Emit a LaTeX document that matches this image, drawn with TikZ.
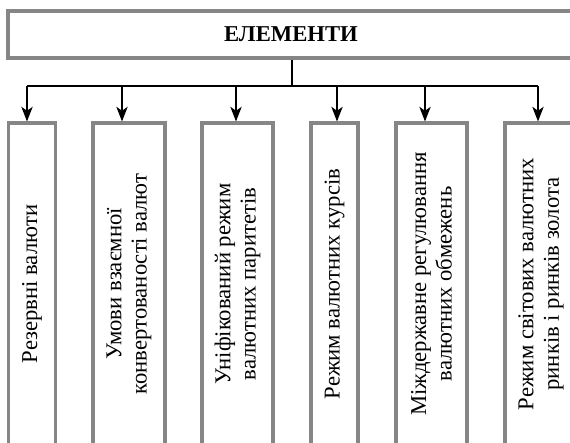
\documentclass[tikz,border=0pt]{standalone}
\usepackage{fontspec}
\setmainfont{Liberation Serif}
\usetikzlibrary{positioning,arrows.meta}

\begin{document}
\begin{tikzpicture}[
    x=0.75pt, y=0.75pt,
    head/.style={rectangle, draw=gray!95, line width=2.3pt, fill=white, minimum width=450pt, minimum height=35.25pt},
    title/.style={font=\fontsize{17}{20}\selectfont\bfseries, xshift=-12.75pt},
    elem/.style={rectangle, draw=gray!95, line width=2.3pt, fill=white, rotate=90, minimum width=241.5pt, align=center, inner sep=2pt, font=\fontsize{17}{19}\selectfont},
    arrow/.style={-{Stealth[length=11pt, width=8.5pt, inset=3pt]}, line width=1.1pt}
]
\useasboundingbox (0,0) rectangle (570,442);

% Nodes
\node[head, label={[title]center:ЕЛЕМЕНТИ}] (elements) at (308,407.5) {};
\node[elem, minimum height=35.25pt] (reserve) at (32,158) {Резервні валюти};
\node[elem, minimum height=54pt] (convert) at (129,158) {Умови взаємної\\конвертованості валют};
\node[elem, minimum height=53.25pt] (parity) at (237.5,158) {Уніфікований режим\\валютних паритетів};
\node[elem, minimum height=35.25pt] (rates) at (334.5,158) {Режим валютних курсів};
\node[elem, minimum height=53.25pt] (limits) at (431.5,158) {Міждержавне регулювання\\валютних обмежень};
\node[elem, minimum height=54pt] (markets) at (541,158) {Режим світових валютних\\ринків і ринків золота};

% Bus
\coordinate (split) at (292,356);
\coordinate (c1) at (27,356);
\coordinate (c2) at (122,356);
\coordinate (c3) at (236,356);
\coordinate (c4) at (337,356);
\coordinate (c5) at (425,356);
\coordinate (c6) at (538,356);

% Arrows
\draw[line width=1.1pt] (split |- elements.south) -- (split);
\draw[line width=1.1pt] (c1) -- (c6);
\draw[arrow] (c1) -- (c1 |- reserve.east);
\draw[arrow] (c2) -- (c2 |- convert.east);
\draw[arrow] (c3) -- (c3 |- parity.east);
\draw[arrow] (c4) -- (c4 |- rates.east);
\draw[arrow] (c5) -- (c5 |- limits.east);
\draw[arrow] (c6) -- (c6 |- markets.east);

\end{tikzpicture}
\end{document}
